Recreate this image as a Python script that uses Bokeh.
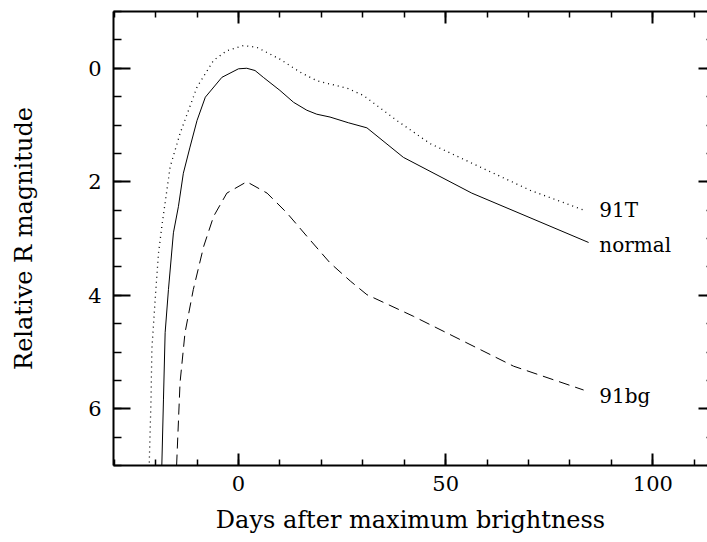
from bokeh.plotting import figure
from bokeh.models import Range1d, LinearAxis, SingleIntervalTicker
from bokeh.core.properties import value
from bokeh.embed import file_html
from bokeh.resources import INLINE

# ---- data ----
normal_x = [-18.6, -18.1, -17.7, -16.9, -15.7, -14.5, -13.3, -11.7, -10.0, -8.0, -4.0, 0.0, 2.0, 4.0,
            6.0, 10.0, 13.3, 16.5, 18.9, 22.1, 26.5, 31.0, 39.8, 56.3, 84.5]
normal_y = [7.3, 5.83, 4.66, 3.9, 2.9, 2.44, 1.85, 1.39, 0.92, 0.51, 0.16, 0.01, 0.0, 0.04,
            0.16, 0.39, 0.6, 0.74, 0.81, 0.86, 0.96, 1.05, 1.57, 2.20, 3.07]

t91_x = [-21.6, -21.5, -21.1, -20.9, -20.1, -19.3, -18.5, -16.5, -14.1, -10.0, -6.0, -2.8, 1.2, 4.4,
         10.0, 14.9, 18.9, 23.3, 26.5, 30.2, 38.2, 46.3, 58.3, 70.4, 83.7]
t91_y = [7.3, 6.88, 5.83, 4.95, 4.07, 3.26, 2.79, 1.74, 1.15, 0.33, -0.14, -0.31, -0.40, -0.37,
         -0.16, 0.07, 0.22, 0.30, 0.36, 0.48, 0.92, 1.33, 1.74, 2.15, 2.51]

bg91_x = [-15.1, -14.1, -12.9, -10.9, -8.4, -6.0, -2.8, 2.0, 6.9, 11.7, 16.5, 22.1, 27.0, 31.0,
          42.2, 54.3, 66.4, 83.3]
bg91_y = [7.3, 5.54, 4.66, 3.9, 3.14, 2.61, 2.20, 2.0, 2.20, 2.55, 2.96, 3.43, 3.75, 3.99,
          4.37, 4.81, 5.25, 5.67]

label_text = ["91T", "normal", "91bg"]
label_x = [87.1, 87.1, 87.1]
label_y = [2.50, 3.11, 5.77]

FONT = "DejaVu Serif"

p = figure(width=707, height=542, output_backend="svg", toolbar_location=None,
           x_range=Range1d(-30.16, 113.2), y_range=Range1d(7, -1),
           min_border_left=113, min_border_right=0, min_border_top=11, min_border_bottom=77,
           x_axis_label="Days after maximum brightness", y_axis_label="Relative R magnitude")
p.grid.visible = False
p.outline_line_color = None
p.background_fill_color = "white"
p.border_fill_color = "white"

def style(ax, maj_in, min_in):
    ax.major_tick_in = maj_in
    ax.major_tick_out = 0
    ax.minor_tick_in = min_in
    ax.minor_tick_out = 0
    ax.axis_line_width = 2
    ax.axis_line_color = "black"
    ax.major_tick_line_width = 2
    ax.minor_tick_line_width = 1.5
    ax.major_tick_line_color = "black"
    ax.minor_tick_line_color = "black"
    ax.major_label_text_font = FONT
    ax.major_label_text_font_size = "21px"
    ax.major_label_text_color = "black"
    ax.axis_label_text_font = FONT
    ax.axis_label_text_font_size = "24px"
    ax.axis_label_text_font_style = "normal"
    ax.axis_label_text_color = "black"

xa = p.xaxis[0]
xa.ticker = SingleIntervalTicker(interval=50, num_minor_ticks=5)
style(xa, 12, 6)
xa.major_label_standoff = 10
xa.axis_label_standoff = 12

ya = p.yaxis[0]
ya.ticker = SingleIntervalTicker(interval=2, num_minor_ticks=4)
style(ya, 17, 8)
ya.major_label_standoff = 12
ya.axis_label_standoff = 47

top = LinearAxis(ticker=SingleIntervalTicker(interval=50, num_minor_ticks=5))
style(top, 12, 6)
top.major_label_text_font_size = "1px"
top.major_label_text_color = None
top.major_label_standoff = 0
p.add_layout(top, "above")

right = LinearAxis(ticker=SingleIntervalTicker(interval=2, num_minor_ticks=4))
style(right, 9, 1)
right.axis_line_color = None
right.major_label_text_font_size = "1px"
right.major_label_text_color = None
right.major_label_standoff = 0
p.add_layout(right, "right")

p.line(normal_x, normal_y, line_color="black", line_width=1)
p.line(t91_x, t91_y, line_color="black", line_width=1.3, line_dash="1 4")
p.line(bg91_x, bg91_y, line_color="black", line_width=1, line_dash="11 6")

p.text(x=label_x, y=label_y, text=label_text, text_font=value(FONT), text_font_size="20px",
       text_baseline="alphabetic", text_align="left", text_color="black")

open("out.html", "w").write(file_html(p, INLINE))
